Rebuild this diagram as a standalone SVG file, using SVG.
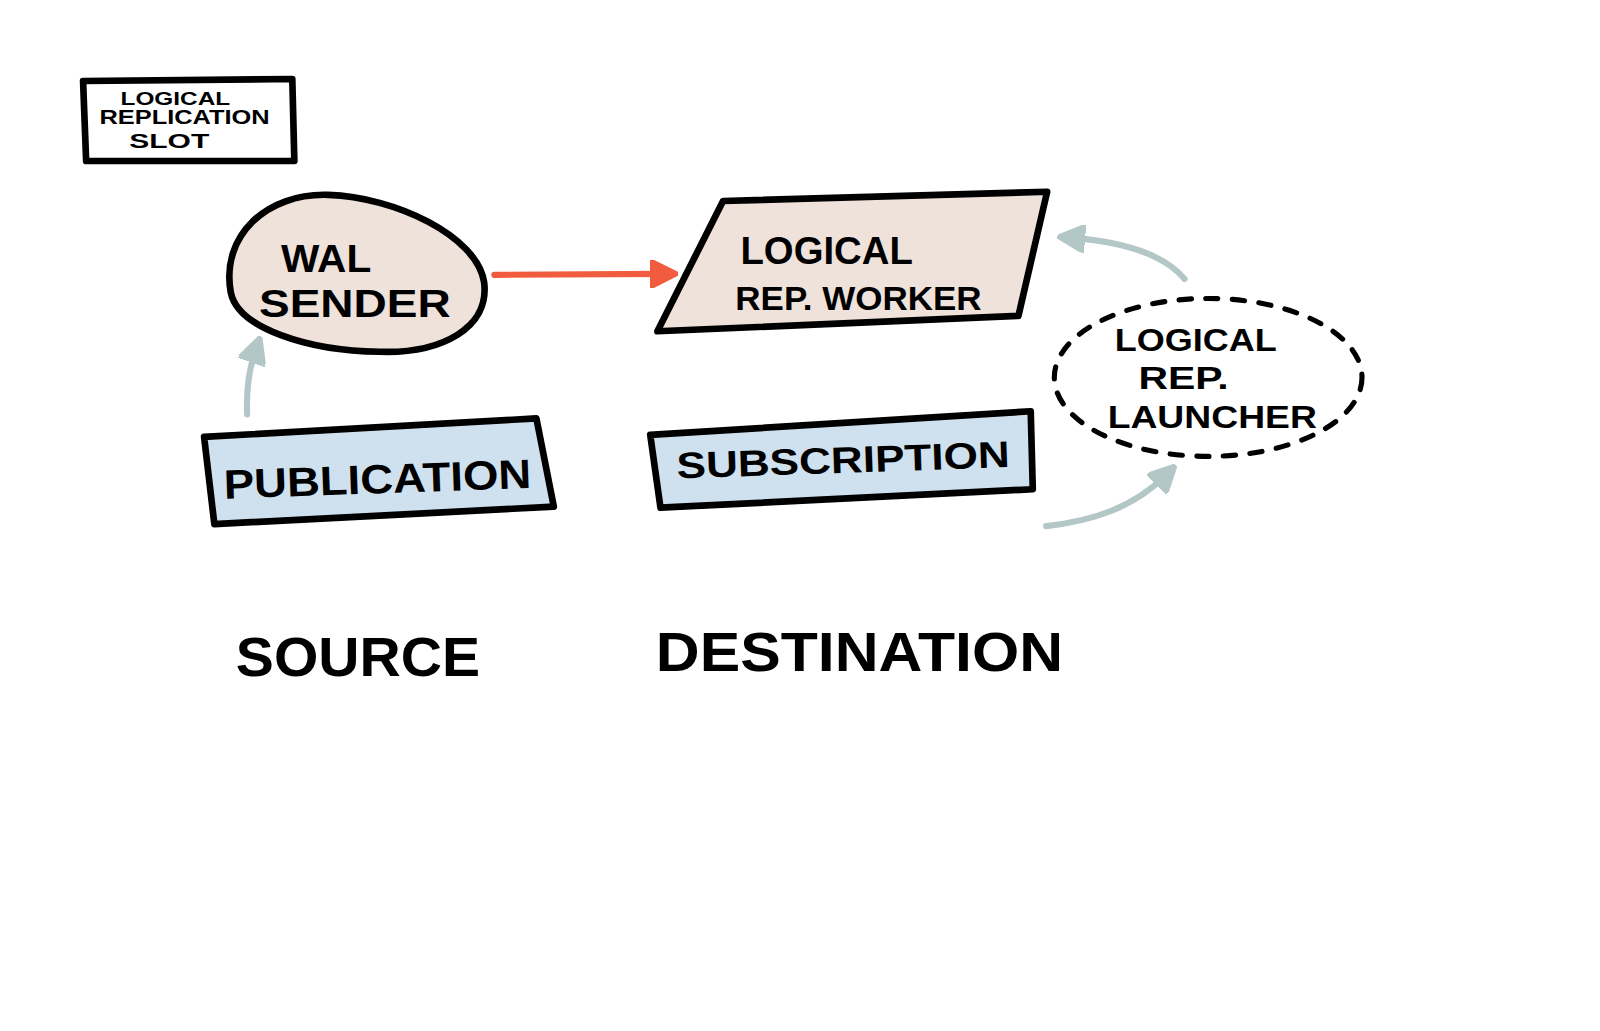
<svg xmlns="http://www.w3.org/2000/svg" width="1600" height="1031" viewBox="0 0 1600 1031">
<style>
.t{font-family:"Liberation Sans","DejaVu Sans",sans-serif;font-weight:bold;fill:#000;text-anchor:middle}
.n{stroke:#000;stroke-width:6.5;stroke-linejoin:round;stroke-linecap:round}
.beige{fill:#efe2da}
.blue{fill:#cfe1ef}
.gray{fill:none;stroke:#b3c7c6;stroke-width:6;stroke-linecap:round}
</style>
<defs>
<marker id="ag" markerWidth="4.5" markerHeight="4.5" refX="2" refY="2.25" orient="auto" markerUnits="strokeWidth"><path d="M0,0 L4.5,2.25 L0,4.5 Z" fill="#b3c7c6" stroke="#b3c7c6" stroke-width="0.6" stroke-linejoin="round"/></marker>
<marker id="ar" markerWidth="4.5" markerHeight="4.5" refX="2" refY="2.25" orient="auto" markerUnits="strokeWidth"><path d="M0,0 L4.5,2.25 L0,4.5 Z" fill="#f25c3e" stroke="#f25c3e" stroke-width="0.6" stroke-linejoin="round"/></marker>
</defs>
<rect width="1600" height="1031" fill="#fff"/>
<g transform="scale(1.0256)">
<g id="slot">
<path class="n" d="M81,79 L285,77 L287,157 L84,157 Z" fill="#fff" stroke-width="5"/>
<text class="t" x="171" y="102" font-size="17" textLength="107" lengthAdjust="spacingAndGlyphs">LOGICAL</text>
<text class="t" x="180" y="121" font-size="19" textLength="166" lengthAdjust="spacingAndGlyphs">REPLICATION</text>
<text class="t" x="165" y="144" font-size="19" textLength="78" lengthAdjust="spacingAndGlyphs">SLOT</text>
</g>
<g id="connectors">
<line x1="482" y1="268" x2="646" y2="267" stroke="#f25c3e" stroke-width="6" stroke-linecap="round" marker-end="url(#ar)"/>
<path class="gray" d="M241,404 C240,380 242,362 249,342" marker-end="url(#ag)"/>
<path class="gray" d="M1155,272 C1135,248 1095,236 1046,232" marker-end="url(#ag)"/>
<path class="gray" d="M1020,513 C1065,508 1105,495 1136,464" marker-end="url(#ag)"/>
</g>
<g id="walsender">
<path class="n beige" d="M225,285 C215,230 260,188 320,190 C385,192 465,230 472,275 C478,320 430,345 370,343 C300,342 232,320 225,285 Z"/>
<text class="t" x="318" y="265" font-size="38" textLength="88" lengthAdjust="spacingAndGlyphs">WAL</text>
<text class="t" x="346" y="309" font-size="38" textLength="187" lengthAdjust="spacingAndGlyphs">SENDER</text>
</g>
<g id="worker">
<path class="n beige" d="M705,196 L1021,187 L993,308 L641,323 Z"/>
<text class="t" x="806" y="257" font-size="38" textLength="168" lengthAdjust="spacingAndGlyphs">LOGICAL</text>
<text class="t" x="837" y="302" font-size="32" textLength="240" lengthAdjust="spacingAndGlyphs">REP. WORKER</text>
</g>
<g id="launcher">
<ellipse cx="1178" cy="368" rx="150" ry="77" fill="none" stroke="#000" stroke-width="5" stroke-dasharray="12,14" stroke-linecap="round"/>
<text class="t" x="1166" y="342" font-size="31" textLength="158" lengthAdjust="spacingAndGlyphs">LOGICAL</text>
<text class="t" x="1154" y="379" font-size="31" textLength="88" lengthAdjust="spacingAndGlyphs">REP.</text>
<text class="t" x="1182" y="417" font-size="31" textLength="204" lengthAdjust="spacingAndGlyphs">LAUNCHER</text>
</g>
<g id="publication">
<path class="n blue" d="M199,426 L523,408 L540,494 L209,511 Z"/>
<text class="t" x="368" y="481" font-size="40" textLength="300" lengthAdjust="spacingAndGlyphs" transform="rotate(-2 368 466)">PUBLICATION</text>
</g>
<g id="subscription">
<path class="n blue" d="M634,424 L1005,401 L1007,477 L644,495 Z"/>
<text class="t" x="822" y="461" font-size="36" textLength="325" lengthAdjust="spacingAndGlyphs" transform="rotate(-2 822 447)">SUBSCRIPTION</text>
</g>
<g id="labels">
<text class="t" x="349" y="659" font-size="54" textLength="238" lengthAdjust="spacingAndGlyphs">SOURCE</text>
<text class="t" x="838" y="654" font-size="54" textLength="397" lengthAdjust="spacingAndGlyphs">DESTINATION</text>
</g>
</g>
</svg>
